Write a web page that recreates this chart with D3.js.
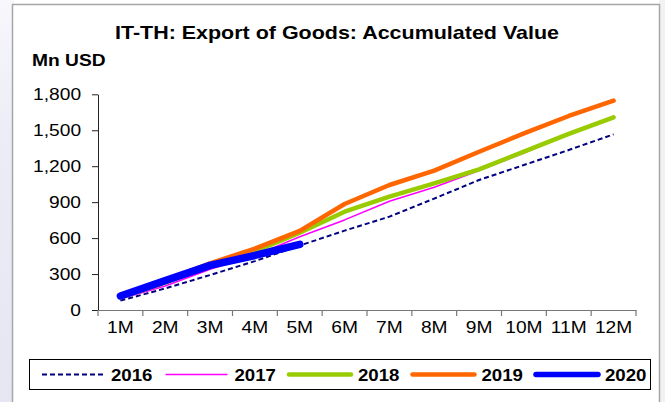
<!DOCTYPE html>
<html>
<head>
<meta charset="utf-8">
<script src="https://cdn.jsdelivr.net/npm/d3@7/dist/d3.min.js"></script>
<style>
  html, body { margin: 0; padding: 0; background: #ffffff; }
  svg { display: block; font-family: "Liberation Sans", Arial, sans-serif; }
</style>
</head>
<body>
<svg id="chart" width="665" height="402"></svg>
<script>
// Categories and values (Mn USD, accumulated)
const months = ["1M", "2M", "3M", "4M", "5M", "6M", "7M", "8M", "9M", "10M", "11M", "12M"];
const yTicks = [0, 300, 600, 900, 1200, 1500, 1800];
const seriesNames = ["2016", "2017", "2018", "2019", "2020"];
const v2016 = [78, 180, 292, 408, 538, 662, 779, 930, 1085, 1210, 1335, 1466];
const v2017 = [95, 200, 340, 455, 612, 752, 908, 1024, 1164, 1310, 1472, 1605];
const v2018 = [105, 228, 372, 488, 645, 820, 946, 1057, 1174, 1322, 1469, 1608];
const v2019 = [115, 245, 390, 512, 660, 885, 1043, 1163, 1321, 1474, 1619, 1747];
const v2020 = [117, 245, 372, 455, 548];
const seriesValues = [v2016, v2017, v2018, v2019, v2020];

// Line styles per series
const styles = [
  { color: "#000080", width: 2,   dash: "5,3", cap: "butt" },
  { color: "#ff00ff", width: 1.6, dash: null,  cap: "butt" },
  { color: "#99cc00", width: 4.5, dash: null,  cap: "round" },
  { color: "#ff6600", width: 4.5, dash: null,  cap: "round" },
  { color: "#0000ff", width: 7.5, dash: null,  cap: "round" }
];

const K = 1.13; // horizontal text stretch
const svg = d3.select("#chart");

// Page backdrop and outer frame
const defs = svg.append("defs");
const grad = defs.append("linearGradient").attr("id", "side").attr("x1", 0).attr("y1", 0).attr("x2", 0).attr("y2", 1);
grad.append("stop").attr("offset", "0").attr("stop-color", "#f7f7fc");
grad.append("stop").attr("offset", "0.35").attr("stop-color", "#ececf6");
grad.append("stop").attr("offset", "1").attr("stop-color", "#e6e6f3");
svg.append("rect").attr("x", 0).attr("y", 0).attr("width", 14).attr("height", 402).attr("fill", "url(#side)");
svg.append("rect").attr("x", 659).attr("y", 0).attr("width", 6).attr("height", 402).attr("fill", "#f2f2f2");
svg.append("rect").attr("x", 12.5).attr("y", 4.5).attr("width", 647).attr("height", 420)
  .attr("fill", "#ffffff").attr("stroke", "#a6a6a6").attr("stroke-width", 1.5);

// Scales
const x = d3.scaleBand().domain(months).range([98, 636]).paddingInner(0).paddingOuter(0);
const cx = m => x(m) + x.bandwidth() / 2;
const y = d3.scaleLinear().domain([0, 1800]).range([310, 94.3]);

// Title and unit
svg.append("text").attr("transform", `translate(337,39) scale(${K},1)`)
  .attr("text-anchor", "middle").attr("font-size", 19).attr("font-weight", "bold")
  .attr("fill", "#000").text("IT-TH: Export of Goods: Accumulated Value");
svg.append("text").attr("transform", `translate(32,66) scale(${K},1)`)
  .attr("font-size", 17).attr("font-weight", "bold").attr("fill", "#000").text("Mn USD");

// Y axis
const gy = svg.append("g").attr("transform", "translate(98,0)")
  .call(d3.axisLeft(y).tickValues(yTicks).tickSize(6).tickSizeOuter(0).tickPadding(9).tickFormat(d3.format(",")));
gy.select(".domain").attr("stroke", "#222").attr("stroke-width", 1);
gy.selectAll(".tick line").attr("stroke", "#222");
gy.selectAll(".tick text").attr("font-size", 17).attr("fill", "#000")
  .attr("font-family", "Liberation Sans, Arial, sans-serif")
  .attr("transform", `scale(${K},1)`);

// X axis: labels at band centres, ticks at band boundaries
const gx = svg.append("g").attr("transform", "translate(0,310)")
  .call(d3.axisBottom(x).tickSize(0).tickSizeOuter(0).tickPadding(11));
gx.select(".domain").attr("stroke", "#777").attr("stroke-width", 1.2);
gx.selectAll(".tick text").attr("font-size", 17).attr("fill", "#000")
  .attr("font-family", "Liberation Sans, Arial, sans-serif")
  .attr("transform", `scale(${K},1)`);
const bounds = months.map(m => x(m)).concat([x.range()[1]]);
gx.selectAll("line.bound").data(bounds).enter().append("line").attr("class", "bound")
  .attr("x1", d => d).attr("x2", d => d).attr("y1", 0).attr("y2", 6)
  .attr("stroke", "#777").attr("stroke-width", 1.2);

// Series lines
const line = d3.line().x((d, i) => cx(months[i])).y(d => y(d));
seriesValues.forEach((vals, i) => {
  const s = styles[i];
  svg.append("path").datum(vals).attr("d", line)
    .attr("fill", "none").attr("stroke", s.color).attr("stroke-width", s.width)
    .attr("stroke-dasharray", s.dash).attr("stroke-linecap", s.cap).attr("stroke-linejoin", "round");
});

// Legend
svg.append("rect").attr("x", 29.5).attr("y", 359.5).attr("width", 621).attr("height", 30)
  .attr("fill", "#fff").attr("stroke", "#000").attr("stroke-width", 1);
seriesNames.forEach((name, i) => {
  const s = styles[i];
  const x0 = 42 + i * 123.5;
  svg.append("line").attr("x1", x0).attr("x2", x0 + 62).attr("y1", 374.5).attr("y2", 374.5)
    .attr("stroke", s.color).attr("stroke-width", Math.min(s.width, 5.5))
    .attr("stroke-dasharray", s.dash).attr("stroke-linecap", s.cap);
  svg.append("text").attr("transform", `translate(${x0 + 69},380.5) scale(${K},1)`)
    .attr("font-size", 16.5).attr("font-weight", "bold").attr("fill", "#000").text(name);
});
</script>
</body>
</html>
